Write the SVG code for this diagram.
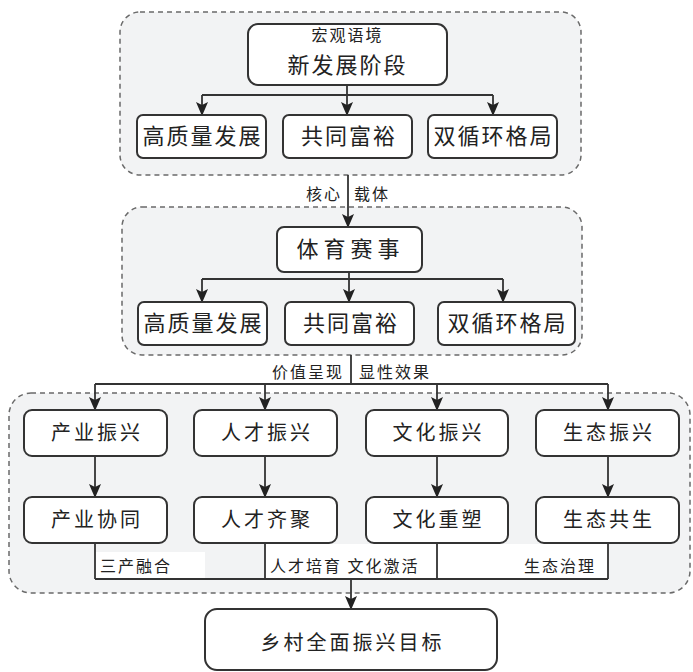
<svg xmlns="http://www.w3.org/2000/svg" width="693" height="672" viewBox="0 0 693 672">
<style>
text{font-family:"Noto Sans CJK SC","Noto Sans",sans-serif;fill:#222;text-anchor:middle}
.grp{fill:#f2f3f4;stroke:#6a6a6a;stroke-width:1.5;stroke-dasharray:5 4}
.box{fill:#fff;stroke:#333;stroke-width:2}
.big{font-size:22px;letter-spacing:2px}
.mid{font-size:20px;letter-spacing:3px}
.lbl{font-size:16px;letter-spacing:2px}
.lk{fill:none;stroke:#333;stroke-width:1.8}
</style>
<defs>
<marker id="ah" markerUnits="userSpaceOnUse" markerWidth="14" markerHeight="12" refX="13" refY="6" orient="auto" viewBox="0 0 14 12">
<path d="M0,0 L14,6 L0,12 L3,6 Z" fill="#222"/>
</marker>
</defs>
<g id="groups">
<rect class="grp" x="120" y="12" width="461" height="163" rx="20"/>
<rect class="grp" x="122" y="207" width="460" height="148" rx="20"/>
<rect class="grp" x="9" y="393" width="681" height="200" rx="22"/>
</g>
<g id="labelbg" fill="#fff">
<rect x="96" y="552" width="109" height="26"/>
<rect x="266" y="544" width="171" height="35"/>
<rect x="438" y="544" width="170" height="35"/>
</g>
<g id="connectors">
<path class="lk" d="M347,85 V95 M202,95 H493"/>
<path class="lk" d="M202,95 V115" marker-end="url(#ah)"/>
<path class="lk" d="M347,95 V115" marker-end="url(#ah)"/>
<path class="lk" d="M493,95 V115" marker-end="url(#ah)"/>
<path class="lk" d="M348,175 V227" marker-end="url(#ah)"/>
<path class="lk" d="M349,272 V279 M202,279 H503"/>
<path class="lk" d="M202,279 V302" marker-end="url(#ah)"/>
<path class="lk" d="M349,279 V302" marker-end="url(#ah)"/>
<path class="lk" d="M503,279 V302" marker-end="url(#ah)"/>
<path class="lk" d="M351,355 V384 M95,384 H608"/>
<path class="lk" d="M95,384 V410" marker-end="url(#ah)"/>
<path class="lk" d="M265,384 V410" marker-end="url(#ah)"/>
<path class="lk" d="M437,384 V410" marker-end="url(#ah)"/>
<path class="lk" d="M608,384 V410" marker-end="url(#ah)"/>
<path class="lk" d="M95,456 V497" marker-end="url(#ah)"/>
<path class="lk" d="M265,456 V497" marker-end="url(#ah)"/>
<path class="lk" d="M437,456 V497" marker-end="url(#ah)"/>
<path class="lk" d="M608,456 V497" marker-end="url(#ah)"/>
<path class="lk" d="M95,543 V579 M265,543 V579 M437,543 V579 M608,543 V579 M95,579 H608"/>
<path class="lk" d="M351,579 V609" marker-end="url(#ah)"/>
<text class="lbl" x="342" y="200" style="text-anchor:end">核心</text>
<text class="lbl" x="354" y="200" style="text-anchor:start">载体</text>
<text class="lbl" x="344" y="378" style="text-anchor:end">价值呈现</text>
<text class="lbl" x="359" y="378" style="text-anchor:start">显性效果</text>
<text class="lbl" x="100" y="572" style="text-anchor:start">三产融合</text>
<text class="lbl" x="270" y="572" style="text-anchor:start">人才培育 文化激活</text>
<text class="lbl" x="524" y="572" style="text-anchor:start">生态治理</text>
</g>
<g id="n-context">
<rect class="box" x="248" y="24" width="199" height="61" rx="10"/>
<text x="347.5" y="41" style="font-size:16px;letter-spacing:2px">宏观语境</text>
<text x="347.5" y="73" style="font-size:22px;letter-spacing:2px">新发展阶段</text>
</g>
<g id="n-a1"><rect class="box" x="137" y="115" width="129" height="43" rx="6"/><text class="big" x="202.5" y="144">高质量发展</text></g>
<g id="n-a2"><rect class="box" x="283" y="115" width="129" height="43" rx="6"/><text class="big" x="349" y="144">共同富裕</text></g>
<g id="n-a3"><rect class="box" x="428" y="115" width="129" height="43" rx="6"/><text class="big" x="493.5" y="144">双循环格局</text></g>
<g id="n-sport"><rect class="box" x="277" y="227" width="145" height="45" rx="7"/><text class="big" x="350.5" y="257" style="letter-spacing:5px">体育赛事</text></g>
<g id="n-b1"><rect class="box" x="138" y="302" width="129" height="43" rx="6"/><text class="big" x="203.5" y="331">高质量发展</text></g>
<g id="n-b2"><rect class="box" x="285" y="302" width="129" height="43" rx="6"/><text class="big" x="351" y="331">共同富裕</text></g>
<g id="n-b3"><rect class="box" x="438" y="302" width="137" height="43" rx="6"/><text class="big" x="507.5" y="331">双循环格局</text></g>
<g id="n-c1"><rect class="box" x="24" y="410" width="143" height="46" rx="8"/><text class="mid" x="97" y="440">产业振兴</text></g>
<g id="n-c2"><rect class="box" x="194" y="410" width="143" height="46" rx="8"/><text class="mid" x="267" y="440">人才振兴</text></g>
<g id="n-c3"><rect class="box" x="366" y="410" width="142" height="46" rx="8"/><text class="mid" x="438.5" y="440">文化振兴</text></g>
<g id="n-c4"><rect class="box" x="536" y="410" width="143" height="46" rx="8"/><text class="mid" x="609" y="440">生态振兴</text></g>
<g id="n-d1"><rect class="box" x="24" y="497" width="143" height="46" rx="8"/><text class="mid" x="97" y="527">产业协同</text></g>
<g id="n-d2"><rect class="box" x="194" y="497" width="143" height="46" rx="8"/><text class="mid" x="267" y="527">人才齐聚</text></g>
<g id="n-d3"><rect class="box" x="366" y="497" width="142" height="46" rx="8"/><text class="mid" x="438.5" y="527">文化重塑</text></g>
<g id="n-d4"><rect class="box" x="536" y="497" width="143" height="46" rx="8"/><text class="mid" x="609" y="527">生态共生</text></g>
<g id="n-goal"><rect class="box" x="205" y="609" width="292" height="61" rx="12"/><text class="mid" x="352.5" y="650">乡村全面振兴目标</text></g>
</svg>
